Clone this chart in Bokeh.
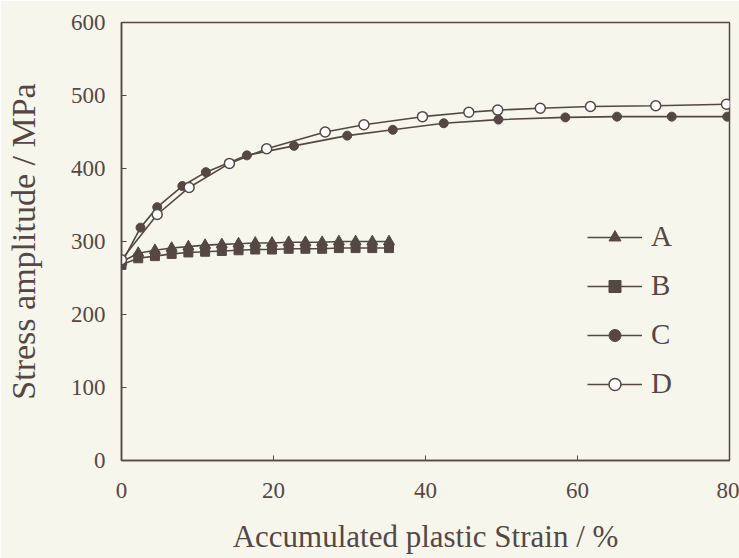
from bokeh.plotting import figure
from bokeh.models import Range1d, FixedTicker, Legend, LegendItem
from bokeh.embed import file_html
from bokeh.resources import INLINE

# ---- data ----
ab_x = [0, 2.2, 4.4, 6.6, 8.8, 11.0, 13.2, 15.4, 17.6, 19.8, 22.0, 24.2, 26.4, 28.6, 30.8, 33.0, 35.2]
a_y = [272, 284, 288, 291, 293, 295, 296, 297, 298, 298, 299, 299, 299, 300, 300, 300, 300]
b_y = [268, 277, 280, 283, 285, 286, 287, 288, 289, 289, 290, 290, 290, 291, 291, 291, 291]

c_x = [0, 2.5, 4.7, 8.0, 11.1, 16.5, 22.7, 29.7, 35.7, 42.4, 49.6, 58.4, 65.2, 72.4, 79.7]
c_y = [270, 319, 347, 376, 395, 418, 431, 445, 453, 462, 467, 470, 471, 471, 471]

d_x = [0, 4.7, 8.9, 14.2, 19.1, 26.8, 31.9, 39.6, 45.7, 49.5, 55.1, 61.7, 70.3, 79.6]
d_y = [275, 337, 374, 407, 427, 450, 460, 471, 477, 480, 482.6, 485, 486, 488]

x_ticks = [0, 20, 40, 60, 80]
y_ticks = [0, 100, 200, 300, 400, 500, 600]
series_names = ["A", "B", "C", "D"]

BG = "#f6f6ed"
INK = "#554844"
FONT = "Liberation Serif"

p = figure(width=739, height=558, output_backend="svg", toolbar_location=None,
           x_range=Range1d(0, 80), y_range=Range1d(0, 600),
           min_border_left=121, min_border_right=10, min_border_top=22, min_border_bottom=98)
p.background_fill_color = BG
p.border_fill_color = BG
p.outline_line_color = INK
p.outline_line_width = 1.5
p.grid.visible = False

for ax in (p.xaxis[0], p.yaxis[0]):
    ax.axis_line_color = INK
    ax.axis_line_width = 1.5
    ax.major_tick_line_color = INK
    ax.major_tick_in = 5
    ax.major_tick_out = 0
    ax.minor_tick_line_color = None
    ax.major_label_text_font = FONT
    ax.major_label_text_font_size = "23px"
    ax.major_label_text_color = INK
    ax.axis_label_text_font = FONT
    ax.axis_label_text_font_style = "normal"
    ax.axis_label_text_color = INK

p.xaxis[0].axis_label_text_font_size = "31px"
p.yaxis[0].axis_label_text_font_size = "34px"
p.xaxis[0].ticker = FixedTicker(ticks=x_ticks)
p.yaxis[0].ticker = FixedTicker(ticks=y_ticks)
p.xaxis[0].axis_label = "Accumulated plastic Strain / %"
p.yaxis[0].axis_label = "Stress amplitude / MPa"
p.xaxis[0].major_label_standoff = 22
p.xaxis[0].axis_label_standoff = 18
p.yaxis[0].major_label_standoff = 16
p.yaxis[0].axis_label_standoff = 26

lw = 1.6
la = p.line(ab_x, a_y, line_color=INK, line_width=lw)
ma = p.scatter(ab_x, a_y, marker="triangle", size=11, fill_color=INK, line_color=INK)
lb = p.line(ab_x, b_y, line_color=INK, line_width=lw)
mb = p.scatter(ab_x, b_y, marker="square", size=9, fill_color=INK, line_color=INK)
lc = p.line(c_x, c_y, line_color=INK, line_width=lw)
mc = p.scatter(c_x, c_y, marker="circle", size=9, fill_color=INK, line_color=INK)
ld = p.line(d_x, d_y, line_color=INK, line_width=lw)
md = p.scatter(d_x, d_y, marker="circle", size=10, fill_color="white", line_color=INK, line_width=1.5)

legend = Legend(items=[
    LegendItem(label=series_names[0], renderers=[la, ma]),
    LegendItem(label=series_names[1], renderers=[lb, mb]),
    LegendItem(label=series_names[2], renderers=[lc, mc]),
    LegendItem(label=series_names[3], renderers=[ld, md]),
], location=(466, 60))
legend.background_fill_alpha = 0
legend.border_line_color = None
legend.padding = 0
legend.margin = 0
legend.spacing = 16
legend.glyph_width = 55
legend.glyph_height = 30
legend.label_height = 30
legend.label_standoff = 9
legend.label_text_font = FONT
legend.label_text_font_size = "29px"
legend.label_text_color = INK
p.add_layout(legend, "center")

open("out.html", "w").write(file_html(p, INLINE))
